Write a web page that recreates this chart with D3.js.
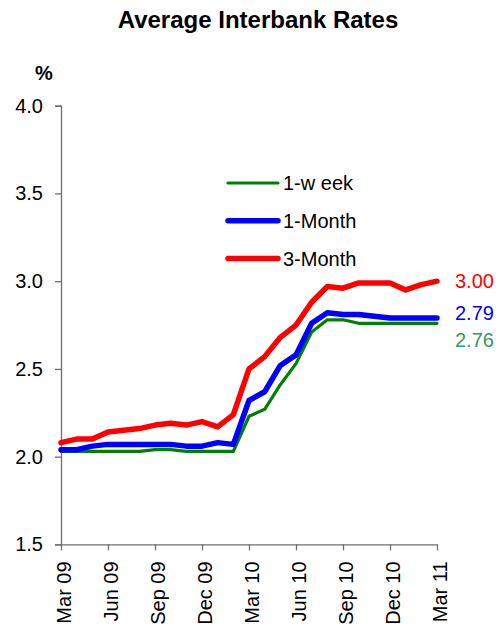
<!DOCTYPE html>
<html>
<head>
<meta charset="utf-8">
<script src="https://cdn.jsdelivr.net/npm/d3@7"></script>
<style>
  body { margin: 0; background: #fff; }
  svg { display: block; font-family: Arial, "Liberation Sans", sans-serif; }
</style>
</head>
<body>
<svg id="chart" width="502" height="628"></svg>
<script>
// Monthly periods, Mar 2009 – Mar 2011
const months = ["Mar 09","Apr 09","May 09","Jun 09","Jul 09","Aug 09","Sep 09","Oct 09","Nov 09","Dec 09",
  "Jan 10","Feb 10","Mar 10","Apr 10","May 10","Jun 10","Jul 10","Aug 10","Sep 10","Oct 10","Nov 10","Dec 10",
  "Jan 11","Feb 11","Mar 11"];
const tickLabels = ["Mar 09","Jun 09","Sep 09","Dec 09","Mar 10","Jun 10","Sep 10","Dec 10","Mar 11"];
const yTicks = [1.5, 2.0, 2.5, 3.0, 3.5, 4.0];

const week1 = [2.03,2.03,2.03,2.03,2.03,2.03,2.04,2.04,2.03,2.03,2.03,2.03,
  2.23,2.27,2.41,2.53,2.71,2.78,2.78,2.76,2.76,2.76,2.76,2.76,2.76];
const month1 = [2.04,2.04,2.06,2.07,2.07,2.07,2.07,2.07,2.06,2.06,2.08,2.07,
  2.32,2.37,2.52,2.58,2.76,2.82,2.81,2.81,2.80,2.79,2.79,2.79,2.79];
const month3 = [2.08,2.10,2.10,2.14,2.15,2.16,2.18,2.19,2.18,2.20,2.17,2.24,
  2.50,2.57,2.68,2.75,2.88,2.97,2.96,2.99,2.99,2.99,2.95,2.98,3.00];

const series = [
  { name: "1-w eek", values: week1, color: "#008000", width: 3.2, labelColor: "#339966", labelShift: 17 },
  { name: "1-Month", values: month1, color: "#0000FF", width: 5.5, labelColor: "#0000FF", labelShift: -5 },
  { name: "3-Month", values: month3, color: "#FF0000", width: 5.5, labelColor: "#FF0000", labelShift: 0 }
];

const FONT = "Arial, 'Liberation Sans', sans-serif";
const FS = 20;

const svg = d3.select("#chart");
const margin = { left: 61, right: 65, top: 105.7, bottom: 83.6 };
const W = 502, H = 628;

const x = d3.scalePoint().domain(months).range([margin.left, W - margin.right]);
const y = d3.scaleLinear().domain([1.5, 4.0]).range([H - margin.bottom, margin.top]);

// Title and unit
svg.append("text").attr("x", 258).attr("y", 28).attr("text-anchor", "middle")
  .attr("font-size", 24).attr("font-weight", "bold").text("Average Interbank Rates");
svg.append("text").attr("x", 44).attr("y", 80).attr("text-anchor", "middle")
  .attr("font-size", FS).attr("font-weight", "bold").text("%");

// Y axis
const yAxis = svg.append("g").attr("transform", `translate(${margin.left},0)`)
  .call(d3.axisLeft(y).tickValues(yTicks).tickFormat(d3.format(".1f")).tickSize(6).tickPadding(12));
yAxis.select(".domain").attr("stroke", "#6e6e6e").attr("stroke-width", 1.3);
yAxis.selectAll(".tick line").attr("stroke", "#6e6e6e").attr("stroke-width", 1.3);
yAxis.selectAll(".tick text").attr("font-size", FS).attr("fill", "#000").attr("font-family", FONT);

// X axis
const xAxis = svg.append("g").attr("transform", `translate(0,${y(1.5)})`)
  .call(d3.axisBottom(x).tickValues(tickLabels).tickSize(6).tickSizeOuter(0));
xAxis.select(".domain").attr("stroke", "#6e6e6e").attr("stroke-width", 1.3);
xAxis.selectAll(".tick line").attr("stroke", "#6e6e6e").attr("stroke-width", 1.3);
xAxis.selectAll(".tick text")
  .attr("font-size", FS).attr("fill", "#000").attr("font-family", FONT)
  .attr("text-anchor", "end").attr("dy", "0.45em")
  .attr("transform", "translate(0,17) rotate(-90)")
  .attr("x", 0).attr("y", 0);

// Lines
const line = d3.line().x((d, i) => x(months[i])).y(d => y(d));
series.forEach(s => {
  svg.append("path").datum(s.values)
    .attr("fill", "none").attr("stroke", s.color).attr("stroke-width", s.width)
    .attr("stroke-linejoin", "round").attr("stroke-linecap", "round")
    .attr("d", line);
});

// End-value labels, nudged apart where the series end close together
const lastIdx = months.length - 1;
series.forEach(s => {
  const v = s.values[lastIdx];
  svg.append("text")
    .attr("x", x(months[lastIdx]) + 18)
    .attr("y", y(v) + s.labelShift)
    .attr("dy", "0.35em")
    .attr("font-size", FS).attr("fill", s.labelColor)
    .text(v.toFixed(2));
});

// Legend
const legend = svg.append("g").attr("transform", "translate(228,183)");
series.forEach((s, i) => {
  const g = legend.append("g").attr("transform", `translate(0,${i * 37.8})`);
  g.append("line").attr("x1", 0).attr("x2", 50).attr("y1", 0).attr("y2", 0)
    .attr("stroke", s.color).attr("stroke-width", s.width).attr("stroke-linecap", "round");
  g.append("text").attr("x", 55).attr("y", 0).attr("dy", "0.35em")
    .attr("font-size", FS).attr("fill", "#000").text(s.name);
});
</script>
</body>
</html>
